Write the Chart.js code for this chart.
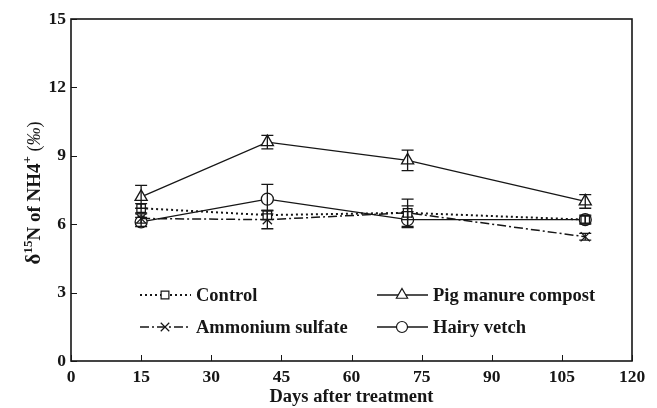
<!DOCTYPE html>
<html>
<head>
<meta charset="utf-8">
<script src="https://cdn.jsdelivr.net/npm/chart.js@4.4.1/dist/chart.umd.min.js"></script>
<style>
html,body{margin:0;padding:0;background:#fff;}
#wrap{width:657px;height:408px;position:relative;}
</style>
</head>
<body>
<div id="wrap"><canvas id="c" width="657" height="408"></canvas></div>
<script>
// ---- data ----
const days = [15, 42, 72, 110];
const xTicks = [0, 15, 30, 45, 60, 75, 90, 105, 120];
const yTicks = [0, 3, 6, 9, 12, 15];
const seriesNames = ['Control', 'Pig manure compost', 'Ammonium sulfate', 'Hairy vetch'];
const control = [6.7, 6.4, 6.5, 6.2];
const controlErr = [0.2, 0.2, 0.3, 0.2];
const pig = [7.2, 9.6, 8.8, 7.0];
const pigErr = [0.5, 0.3, 0.45, 0.3];
const ammonium = [6.25, 6.2, 6.5, 5.45];
const ammoniumErr = [0.2, 0.4, 0.6, 0.15];
const vetch = [6.1, 7.1, 6.2, 6.2];
const vetchErr = [0.2, 0.65, 0.35, 0.15];

const INK = '#161616';
const FONT = '"Liberation Serif", "Times New Roman", serif';

function pts(vals) { return days.map((d, i) => ({x: d, y: vals[i]})); }

const styles = [
  {dash: [2, 3], width: 2, pointStyle: 'rect', radius: 6},
  {dash: [], width: 1.3, pointStyle: 'triangle', radius: 7},
  {dash: [9, 3, 2, 3], width: 1.5, pointStyle: 'crossRot', radius: 6.5},
  {dash: [], width: 1.3, pointStyle: 'circle', radius: 6}
];
const valueSets = [control, pig, ammonium, vetch];
const errSets = [controlErr, pigErr, ammoniumErr, vetchErr];

const datasets = valueSets.map((v, k) => ({
  label: seriesNames[k],
  data: pts(v),
  errors: errSets[k],
  borderColor: INK,
  backgroundColor: '#fff',
  borderWidth: styles[k].width,
  borderDash: styles[k].dash,
  pointStyle: styles[k].pointStyle,
  pointRadius: styles[k].radius,
  pointBorderWidth: 1.3,
  pointBorderColor: INK,
  pointBackgroundColor: '#fff',
  tension: 0,
  fill: false
}));

const frameAndTicks = {
  id: 'frameAndTicks',
  afterDraw(chart) {
    const {ctx, chartArea: a, scales} = chart;
    ctx.save();
    ctx.strokeStyle = INK;
    ctx.lineWidth = 1.6;
    ctx.setLineDash([]);
    ctx.strokeRect(a.left, a.top, a.right - a.left, a.bottom - a.top);
    ctx.lineWidth = 1;
    xTicks.forEach(t => {
      const x = Math.round(scales.x.getPixelForValue(t)) + 0.5;
      ctx.beginPath(); ctx.moveTo(x, a.bottom); ctx.lineTo(x, a.bottom - 6); ctx.stroke();
    });
    yTicks.forEach(t => {
      const y = Math.round(scales.y.getPixelForValue(t)) + 0.5;
      ctx.beginPath(); ctx.moveTo(a.left, y); ctx.lineTo(a.left + 6, y); ctx.stroke();
    });
    ctx.restore();
  }
};

const errorBars = {
  id: 'errorBars',
  afterDatasetsDraw(chart) {
    const {ctx, scales} = chart;
    ctx.save();
    ctx.strokeStyle = INK;
    ctx.lineWidth = 1.3;
    ctx.setLineDash([]);
    chart.data.datasets.forEach(ds => {
      ds.data.forEach((p, i) => {
        const e = ds.errors[i];
        const x = scales.x.getPixelForValue(p.x);
        const y1 = scales.y.getPixelForValue(p.y + e);
        const y2 = scales.y.getPixelForValue(p.y - e);
        ctx.beginPath();
        ctx.moveTo(x, y1); ctx.lineTo(x, y2);
        ctx.moveTo(x - 6, y1); ctx.lineTo(x + 6, y1);
        ctx.moveTo(x - 6, y2); ctx.lineTo(x + 6, y2);
        ctx.stroke();
      });
    });
    ctx.restore();
  }
};

const legendBox = {
  id: 'legendBox',
  afterDraw(chart) {
    const {ctx} = chart;
    const items = [
      {k: 0, x: 140, y: 295},
      {k: 1, x: 377, y: 295},
      {k: 2, x: 140, y: 327},
      {k: 3, x: 377, y: 327}
    ];
    ctx.save();
    items.forEach(it => {
      const ds = chart.data.datasets[it.k];
      const st = styles[it.k];
      ctx.strokeStyle = INK;
      ctx.lineWidth = st.width;
      ctx.setLineDash(st.dash);
      ctx.beginPath();
      ctx.moveTo(it.x, it.y); ctx.lineTo(it.x + 51, it.y);
      ctx.stroke();
      ctx.setLineDash([]);
      ctx.fillStyle = '#fff';
      ctx.lineWidth = 1.2;
      Chart.helpers.drawPoint(ctx, {pointStyle: st.pointStyle, radius: st.radius - 0.5, borderWidth: 1.2, rotation: 0}, it.x + 25, it.y);
      ctx.fillStyle = INK;
      ctx.font = 'bold 18.5px ' + FONT;
      ctx.textBaseline = 'middle';
      ctx.textAlign = 'left';
      ctx.fillText(ds.label, it.x + 56, it.y + 1);
    });
    ctx.restore();
  }
};

const yTitle = {
  id: 'yTitle',
  afterDraw(chart) {
    const {ctx, chartArea: a} = chart;
    const parts = [
      {t: 'δ', f: 'bold 21px ' + FONT, dy: 0},
      {t: '15', f: 'bold 13px ' + FONT, dy: -8},
      {t: 'N of NH4', f: 'bold 19px ' + FONT, dy: 0},
      {t: '+', f: 'bold 13px ' + FONT, dy: -9},
      {t: ' (', f: '18px ' + FONT, dy: 0},
      {t: '‰', f: 'italic 18px ' + FONT, dy: 0},
      {t: ')', f: '18px ' + FONT, dy: 0}
    ];
    ctx.save();
    let w = 0;
    parts.forEach(p => { ctx.font = p.f; p.w = ctx.measureText(p.t).width; w += p.w; });
    ctx.translate(33, 193);
    ctx.rotate(-Math.PI / 2);
    ctx.fillStyle = INK;
    ctx.textBaseline = 'alphabetic';
    ctx.textAlign = 'left';
    let x = -w / 2;
    parts.forEach(p => { ctx.font = p.f; ctx.fillText(p.t, x, 7 + p.dy); x += p.w; });
    ctx.restore();
  }
};

new Chart(document.getElementById('c'), {
  type: 'line',
  data: {datasets},
  options: {
    responsive: false,
    animation: false,
    devicePixelRatio: 1,
    layout: {padding: {top: 19, right: 25, left: 0, bottom: 0}},
    plugins: {legend: {display: false}, tooltip: {enabled: false}},
    scales: {
      x: {
        type: 'linear', min: 0, max: 120,
        afterBuildTicks: s => { s.ticks = xTicks.map(v => ({value: v})); },
        afterFit: s => { s.height = 47; },
        grid: {display: false, drawTicks: false},
        border: {display: false},
        ticks: {color: INK, font: {family: FONT, size: 17.5, weight: 'bold'}, padding: 6, maxRotation: 0, autoSkip: false},
        title: {display: true, text: 'Days after treatment', color: INK, font: {family: FONT, size: 18.5, weight: 'bold'}, padding: {top: 0, bottom: 0}}
      },
      y: {
        type: 'linear', min: 0, max: 15,
        afterBuildTicks: s => { s.ticks = yTicks.map(v => ({value: v})); },
        afterFit: s => { s.width = 71; },
        grid: {display: false, drawTicks: false},
        border: {display: false},
        ticks: {color: INK, font: {family: FONT, size: 17.5, weight: 'bold'}, padding: 5}
      }
    }
  },
  plugins: [errorBars, frameAndTicks, legendBox, yTitle]
});
</script>
</body>
</html>
